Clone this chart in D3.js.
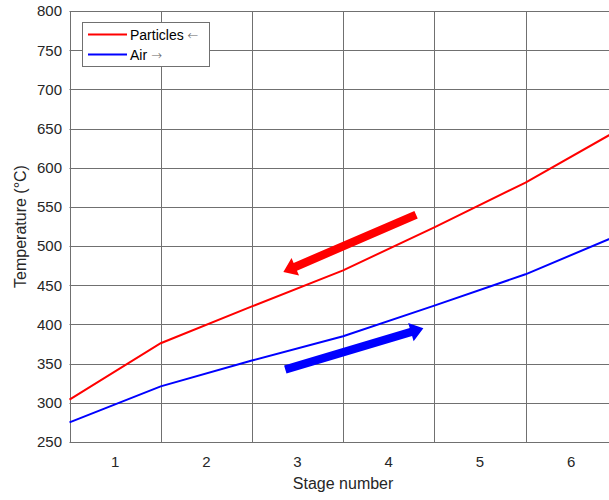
<!DOCTYPE html>
<html>
<head>
<meta charset="utf-8">
<script src="https://cdn.jsdelivr.net/npm/d3@7"></script>
<style>
html,body{margin:0;padding:0;background:#fff;overflow:hidden;}
svg{display:block;font-family:"Liberation Sans",Arial,Helvetica,sans-serif;}
</style>
</head>
<body>
<svg id="chart" width="609" height="500"></svg>
<script>
// ---- data ----
const stageBoundaries = [0.5, 1.5, 2.5, 3.5, 4.5, 5.5, 6.5];
const particles = [304, 376, 423, 469, 524, 581, 647];
const air = [275, 321, 354, 385, 424, 464, 513];
const stageTicks = [1, 2, 3, 4, 5, 6];
const tempTicks = [250, 300, 350, 400, 450, 500, 550, 600, 650, 700, 750, 800];
const seriesNames = ["Particles", "Air"];
const seriesArrows = ["\u2190", "\u2192"];
const seriesColors = ["#ff0000", "#0000ff"];
// arrow annotations: [x0, y0] -> [x1, y1] in data units
const particleArrow = [[4.30, 540], [2.845, 467]];
const airArrow = [[2.866, 342.5], [4.38, 395]];

const svg = d3.select("#chart");
const x = d3.scaleLinear().domain([0.5, 6.5]).range([69.5, 616.7]);
const y = d3.scaleLinear().domain([250, 800]).range([442, 11]);

const gridColor = "#707070";
// grid
const g = svg.append("g");
g.selectAll("line.vg").data(stageBoundaries).enter().append("line")
  .attr("x1", d => Math.round(x(d)) + 0.5).attr("x2", d => Math.round(x(d)) + 0.5)
  .attr("y1", y(800)).attr("y2", y(250))
  .attr("stroke", gridColor).attr("stroke-width", 1);
g.selectAll("line.hg").data(tempTicks).enter().append("line")
  .attr("x1", x(0.5)).attr("x2", x(6.5))
  .attr("y1", d => Math.round(y(d)) + 0.5).attr("y2", d => Math.round(y(d)) + 0.5)
  .attr("stroke", gridColor).attr("stroke-width", 1);

// axes labels (ticks)
svg.append("g").selectAll("text").data(tempTicks).enter().append("text")
  .attr("x", 62).attr("y", d => y(d)).attr("dy", "0.36em")
  .attr("text-anchor", "end").attr("font-size", 15).attr("fill", "#262626")
  .text(d => d);
svg.append("g").selectAll("text").data(stageTicks).enter().append("text")
  .attr("x", d => x(d)).attr("y", 467)
  .attr("text-anchor", "middle").attr("font-size", 15).attr("fill", "#262626")
  .text(d => d);

svg.append("text").attr("x", x(3.5)).attr("y", 489)
  .attr("text-anchor", "middle").attr("font-size", 16).attr("fill", "#262626")
  .text("Stage number");
svg.append("text")
  .attr("transform", `translate(26,${(y(250)+y(800))/2}) rotate(-90)`)
  .attr("text-anchor", "middle").attr("font-size", 16).attr("fill", "#262626")
  .text("Temperature (\u00B0C)");

// lines
const line = d3.line().x((d, i) => x(stageBoundaries[i])).y(d => y(d));
[particles, air].forEach((s, i) => {
  svg.append("path").datum(s).attr("d", line)
    .attr("fill", "none").attr("stroke", seriesColors[i]).attr("stroke-width", 2);
});

// arrows
function arrow(pts, color) {
  const [x0, y0] = [x(pts[0][0]), y(pts[0][1])];
  const [x1, y1] = [x(pts[1][0]), y(pts[1][1])];
  const dx = x1 - x0, dy = y1 - y0, L = Math.hypot(dx, dy);
  const ux = dx / L, uy = dy / L, nx = -uy, ny = ux;
  const sw = 4.2, hw = 9.5, hl = 13;
  const bx = x1 - ux * hl, by = y1 - uy * hl;
  const p = [
    [x0 + nx * sw, y0 + ny * sw], [bx + nx * sw, by + ny * sw], [bx + nx * hw, by + ny * hw],
    [x1, y1],
    [bx - nx * hw, by - ny * hw], [bx - nx * sw, by - ny * sw], [x0 - nx * sw, y0 - ny * sw]
  ];
  svg.append("polygon").attr("points", p.map(q => q.join(",")).join(" ")).attr("fill", color);
}
arrow(particleArrow, seriesColors[0]);
arrow(airArrow, seriesColors[1]);

// legend
const lg = svg.append("g");
lg.append("rect").attr("x", 82.5).attr("y", 22.5).attr("width", 127).attr("height", 44)
  .attr("fill", "#fff").attr("stroke", "#707070").attr("stroke-width", 1);
seriesNames.forEach((n, i) => {
  const yy = 34.5 + i * 20;
  lg.append("line").attr("x1", 88).attr("x2", 127).attr("y1", yy).attr("y2", yy)
    .attr("stroke", seriesColors[i]).attr("stroke-width", 2);
  const t = lg.append("text").attr("x", 130).attr("y", yy).attr("dy", "0.36em")
    .attr("font-size", 14).attr("fill", "#000");
  t.append("tspan").text(n + " ");
  t.append("tspan").attr("font-family", "DejaVu Sans").attr("font-size", 13)
    .attr("fill", "#666").attr("font-weight", 200).text(seriesArrows[i]);
});
</script>
</body>
</html>
